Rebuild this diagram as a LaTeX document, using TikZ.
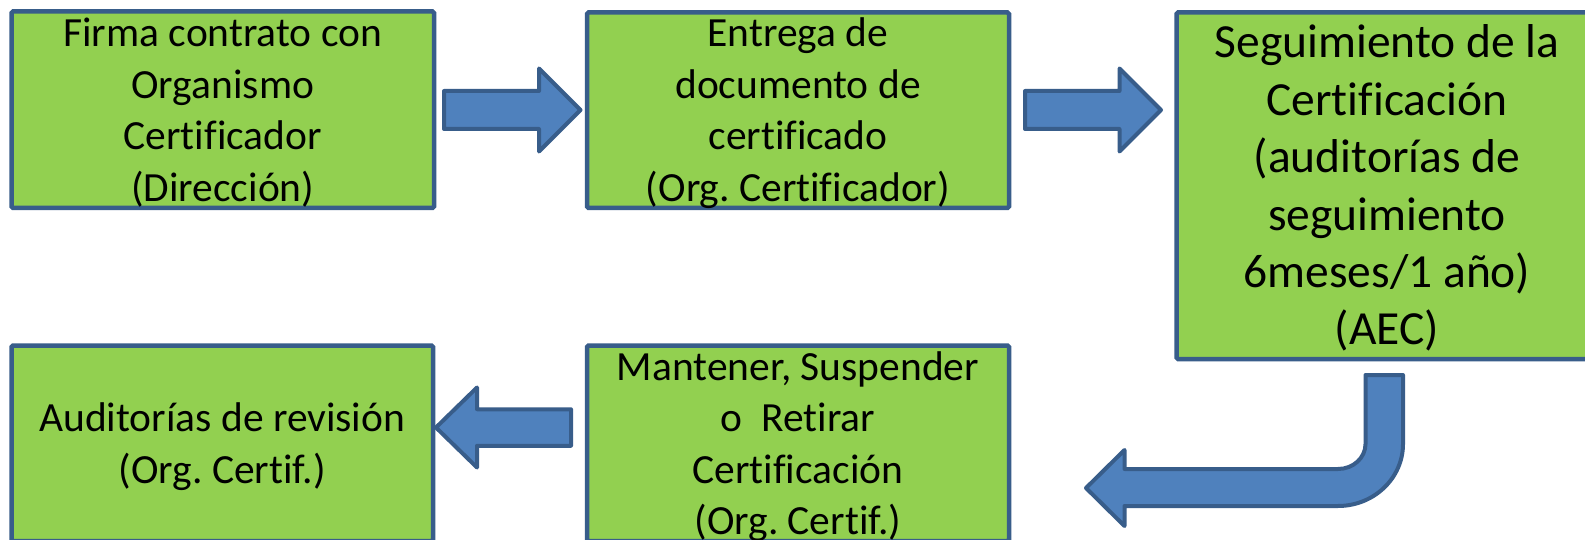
\documentclass[tikz,border=0pt]{standalone}
\usepackage{fontspec}
\setmainfont{Carlito}[Ligatures=NoCommon]
\frenchspacing
\usetikzlibrary{calc}
\definecolor{boxgreen}{HTML}{92D050}
\definecolor{edgeblue}{HTML}{385D8A}
\definecolor{arrowblue}{HTML}{4F81BD}
\tikzset{
  boxsty/.style={draw=edgeblue, fill=boxgreen, line width=4.5pt, rounded corners=1.5pt,
    inner sep=0pt, outer sep=0pt, rectangle},
  txtsm/.style={align=center, inner sep=0pt, outer sep=0pt, anchor=north,
    font=\fontsize{41.5}{51.6}\selectfont\frenchspacing},
  txtlg/.style={align=center, inner sep=0pt, outer sep=0pt, anchor=north,
    font=\fontsize{47.5}{57.4}\selectfont\frenchspacing},
  arrowsty/.style={draw=edgeblue, fill=arrowblue, line width=4pt, line join=round}
}
\begin{document}
\begin{tikzpicture}[x=1pt,y=-1pt]
\fill[white] (0,0) rectangle (1585,540);
\useasboundingbox (0,0) rectangle (1585,540);

% boxes
\node[boxsty, minimum width=422.5pt, minimum height=196.5pt] (b1) at (222.75,109.75) {};
\node[boxsty, minimum width=422pt, minimum height=195.5pt] (b2) at (798,110.25) {};
\node[boxsty, minimum width=422pt, minimum height=346.5pt] (b3) at (1387.5,185.75) {};
\node[boxsty, minimum width=421.5pt, minimum height=195.5pt] (b4) at (222.25,443.25) {};
\node[boxsty, minimum width=422pt, minimum height=195.5pt] (b5) at (798,443.25) {};

% texts
\node[txtsm] (t1) at (222.75,10.6) {\strut Firma contrato con\\\strut Organismo\\\strut Certificador\\\strut (Dirección)};
\node[txtsm] (t2) at (798,10.6) {\strut Entrega de\\\strut documento de\\\strut certificado\\\strut (Org. Certificador)};
\node[txtlg] (t3) at (1387,17.8) {\strut Seguimiento de la\\\strut Certificación\\\strut (auditorías de\\\strut seguimiento\\\strut 6meses/1 año)\\\strut (AEC)};
\node[txtsm] (t4) at (222.25,395.6) {\strut Auditorías de revisión\\\strut (Org. Certif.)};
\node[txtsm] (t5) at (798,343.9) {\strut Mantener, Suspender\\\strut o\ \ Retirar\\\strut Certificación\\\strut (Org. Certif.)};

% arrow end points
\coordinate (a1s) at (444,110);
\coordinate (a1t) at (580.5,110);
\coordinate (a2s) at (1025,110);
\coordinate (a2t) at (1161,110);
\coordinate (a3s) at (571,427.5);
\coordinate (a3t) at (436,427.5);

% block arrow 1 (b1 -> b2)
\draw[arrowsty] ($(a1s)+(0,-19)$) -- ($(a1t)+(-41.5,-19)$) -- ($(a1t)+(-41.5,-41.5)$) -- (a1t)
  -- ($(a1t)+(-41.5,41.5)$) -- ($(a1t)+(-41.5,19)$) -- ($(a1s)+(0,19)$) -- cycle;
% block arrow 2 (b2 -> b3)
\draw[arrowsty] ($(a2s)+(0,-19)$) -- ($(a2t)+(-41.5,-19)$) -- ($(a2t)+(-41.5,-41.5)$) -- (a2t)
  -- ($(a2t)+(-41.5,41.5)$) -- ($(a2t)+(-41.5,19)$) -- ($(a2s)+(0,19)$) -- cycle;
% block arrow 3 (b5 -> b4)
\draw[arrowsty] ($(a3s)+(0,-18.25)$) -- ($(a3t)+(41,-18.25)$) -- ($(a3t)+(41,-40)$) -- (a3t)
  -- ($(a3t)+(41,40)$) -- ($(a3t)+(41,18.25)$) -- ($(a3s)+(0,18.25)$) -- cycle;
% bent arrow (b3 -> b5)
\draw[arrowsty] (1365.5,375) -- (1403,375) -- (1403,444)
  .. controls (1403,478.2) and (1373.9,506) .. (1338,506)
  -- (1124.5,506) -- (1124.5,526) -- (1086,488) -- (1124.5,450) -- (1124.5,469) -- (1338,469)
  .. controls (1353.2,469) and (1365.5,457.8) .. (1365.5,444) -- cycle;
\end{tikzpicture}
\end{document}
